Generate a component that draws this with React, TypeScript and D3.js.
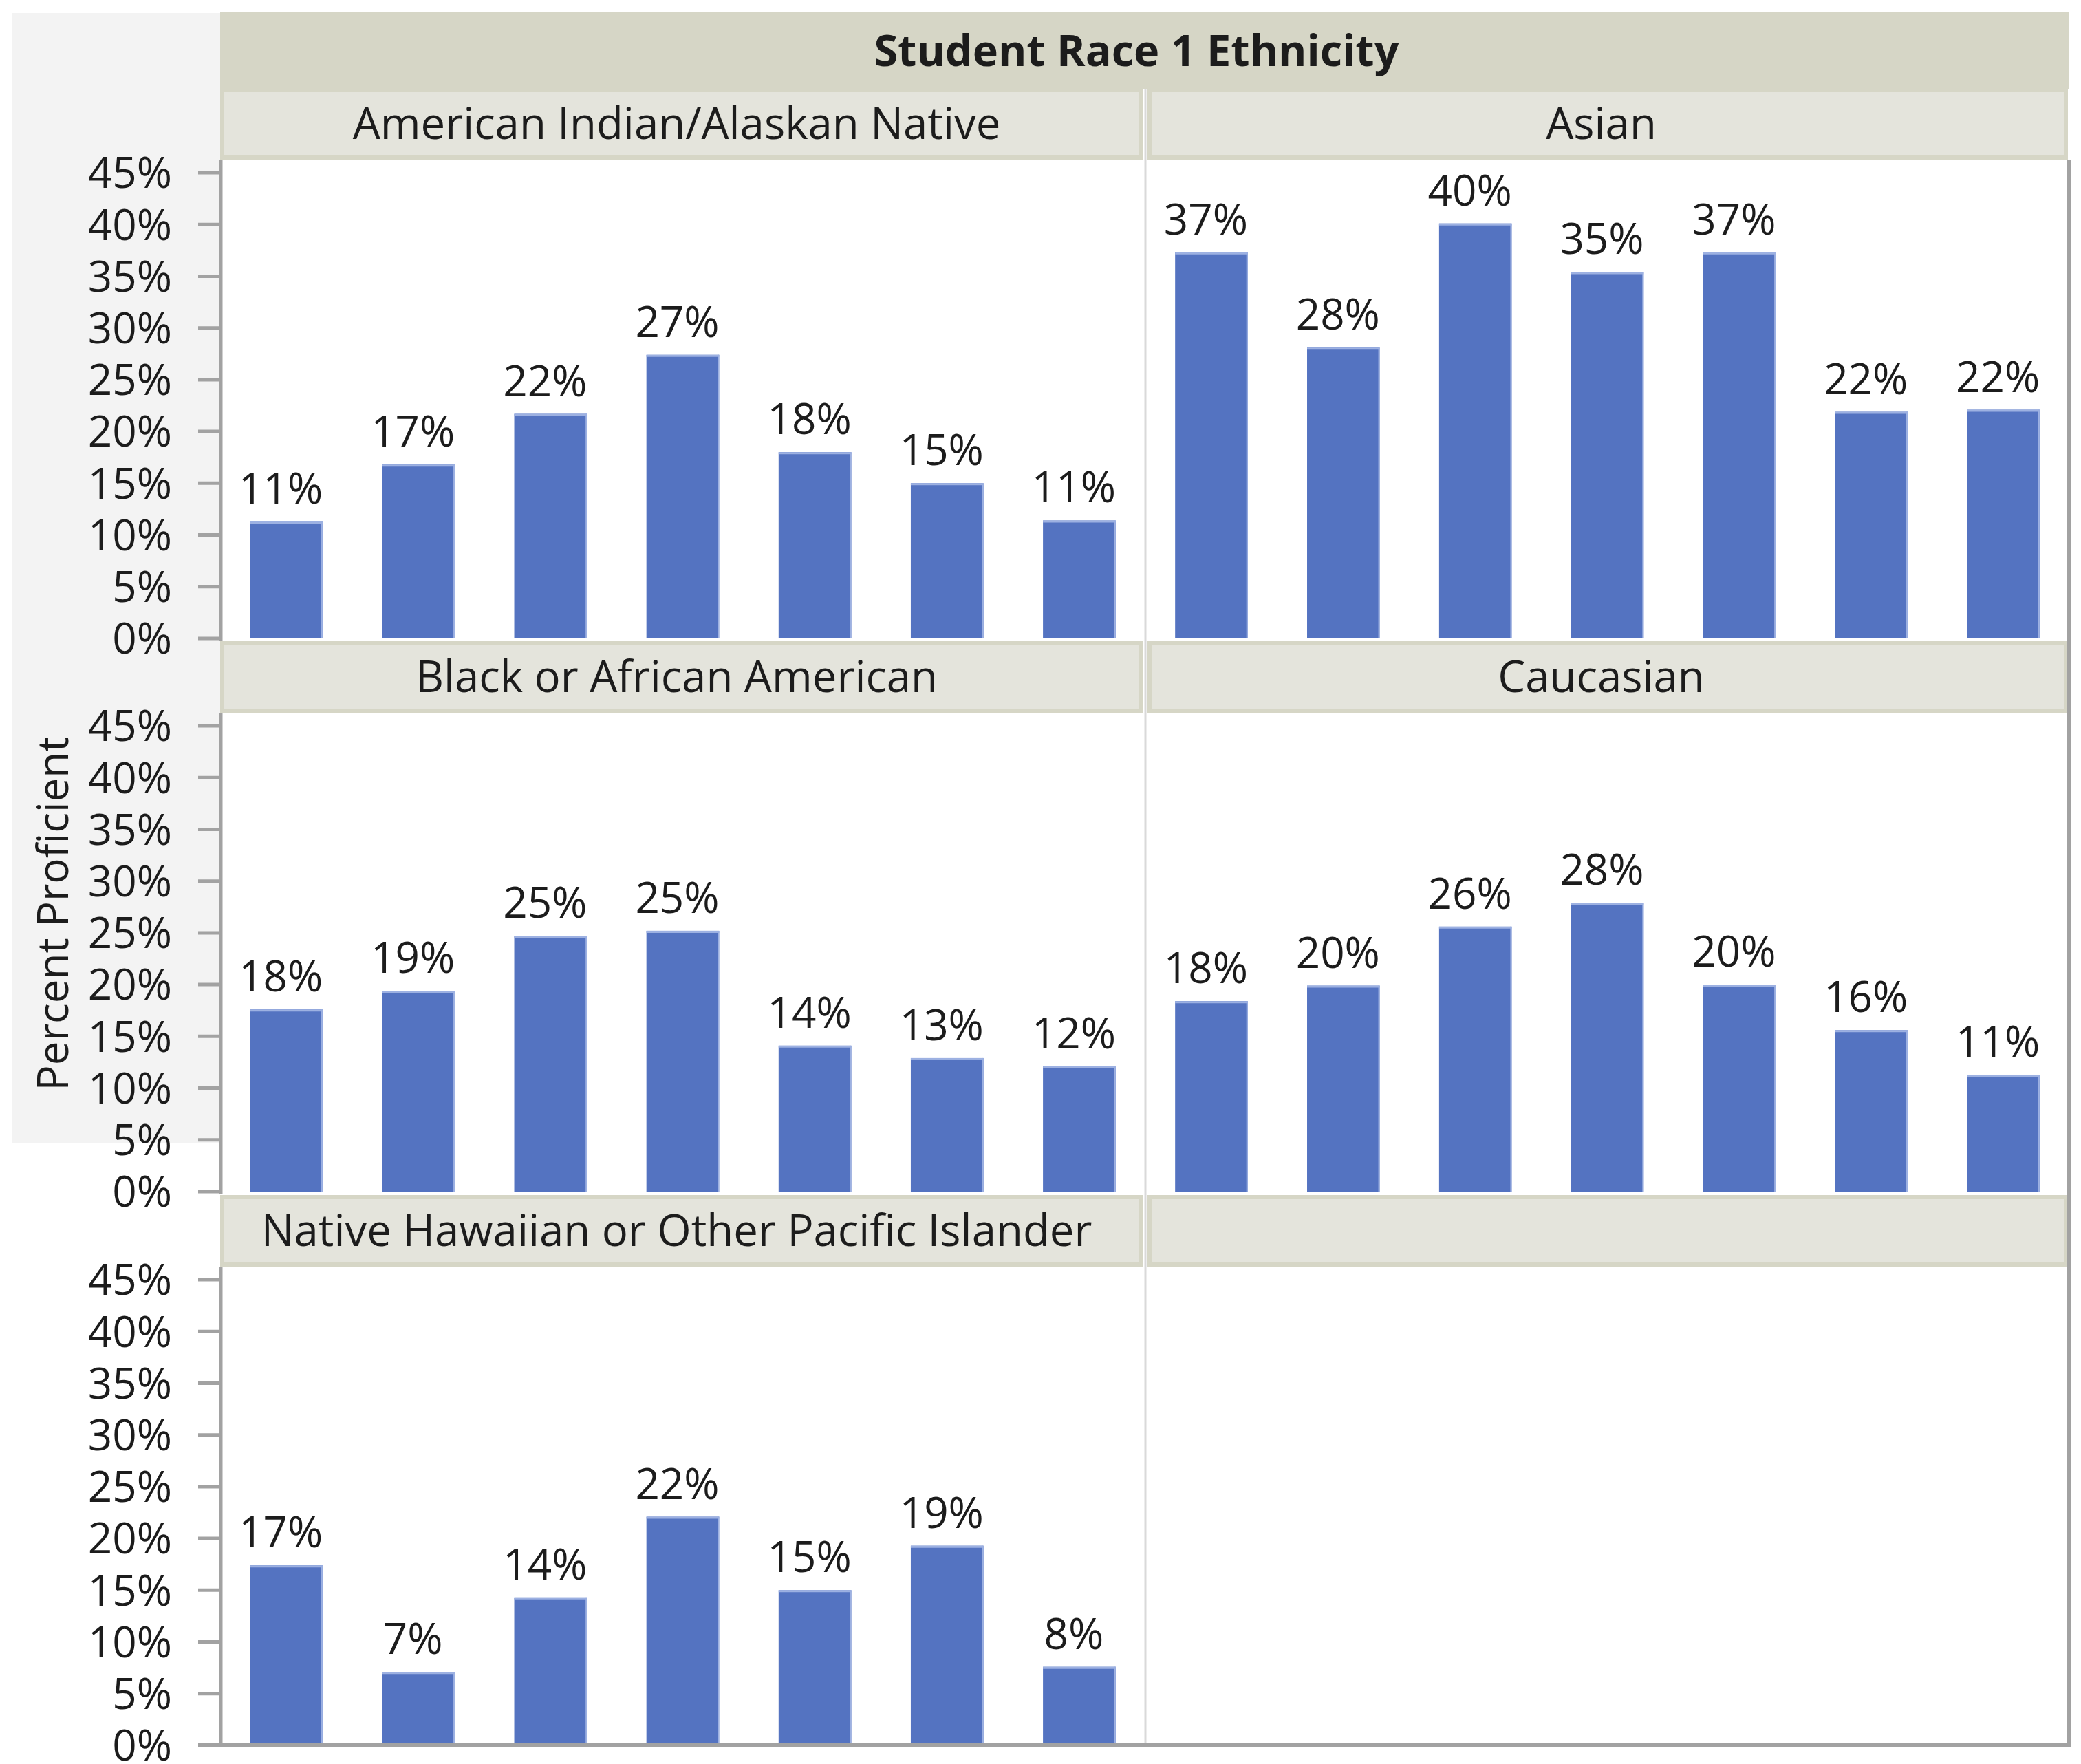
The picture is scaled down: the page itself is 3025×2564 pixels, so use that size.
import React from "react";
import * as d3 from "d3";

const categories = ["Grade 3", "Grade 4", "Grade 5", "Grade 6", "Grade 7", "Grade 8", "Grade 10"];
const groups = [
  "American Indian/Alaskan Native",
  "Asian",
  "Black or African American",
  "Caucasian",
  "Native Hawaiian or Other Pacific Islander",
];
const americanIndian = [0.113, 0.168, 0.217, 0.274, 0.18, 0.15, 0.114];
const asian = [0.373, 0.281, 0.401, 0.354, 0.373, 0.219, 0.221];
const black = [0.176, 0.194, 0.247, 0.252, 0.141, 0.129, 0.121];
const caucasian = [0.184, 0.199, 0.256, 0.279, 0.2, 0.156, 0.113];
const pacificIslander = [0.174, 0.071, 0.143, 0.221, 0.15, 0.193, 0.076];
const seriesValues = [americanIndian, asian, black, caucasian, pacificIslander];
const yTicks = [0, 0.05, 0.1, 0.15, 0.2, 0.25, 0.3, 0.35, 0.4, 0.45];
const chartTitle = "Student Race 1 Ethnicity";
const yTitle = "Percent Proficient";

const W = 3025;
const H = 2564;
const FONT = "'Segoe UI', 'Open Sans', 'Noto Sans', sans-serif";
const FS = 62;
const FS_HEAD = 63.5;
const TEXT = "#1c1c1c";
const BAR = "#5473c1";
const BAR_EDGE = "#9db1e2";
const AXIS = "#a2a2a2";
const HEAD_DARK = "#d6d6c6";
const HEAD_LIGHT = "#e4e4dc";

const colX: [number, number][] = [
  [320, 1665],
  [1665, 3008],
];
const zeroY = [928, 1732, 2537];
const SPAN45 = 677;
const PLOT_H = 696;
const HEAD_H = 104;

const fmt = d3.format(".0%");

export default function App() {
  const panels = [0, 1, 2, 3, 4, 5];
  return (
    <div style={{ position: "absolute", left: 0, top: 0 }}>
      <svg width={W} height={H} style={{ display: "block", background: "#fff" }} fontFamily={FONT}>
        <rect x={0} y={0} width={W} height={H} fill="#fff" />
        {/* left gray area */}
        <rect x={18} y={19} width={302} height={1643} fill="#f3f3f3" />
        {/* title band */}
        <rect x={320} y={17} width={2688} height={113} fill={HEAD_DARK} />
        <text x={1652} y={74} dy="0.35em" textAnchor="middle" fontSize={63} fontWeight={700} fill={TEXT}>
          {chartTitle}
        </text>
        {/* vertical divider between columns */}
        <line x1={1665} x2={1665} y1={130} y2={2537} stroke="#d9d9d9" strokeWidth={3} />
        {/* y axis title */}
        <text
          transform={`translate(${99},${1328}) rotate(-90)`}
          textAnchor="middle"
          fontSize={FS}
          fill={TEXT}
        >
          {yTitle}
        </text>
        {panels.map((i) => {
          const row = Math.floor(i / 2);
          const col = i % 2;
          const [x0, x1] = colX[col];
          const zy = zeroY[row];
          const plotTop = zy - PLOT_H;
          const headTop = plotTop - HEAD_H;
          const y = d3.scaleLinear().domain([0, 0.45]).range([zy, zy - SPAN45]);
          const x = d3
            .scaleBand<string>()
            .domain(categories)
            .range([x0, x1])
            .paddingInner(0.45)
            .paddingOuter(0.225);
          const values = seriesValues[i];
          const hx0 = col === 0 ? x0 : x0 + 3;
          const hx1 = col === 0 ? x1 - 3 : x1 - 2;
          return (
            <g key={i}>
              {/* header box */}
              <rect
                x={hx0 + 3}
                y={headTop + 3}
                width={hx1 - hx0 - 6}
                height={HEAD_H - 6}
                fill={HEAD_LIGHT}
                stroke={HEAD_DARK}
                strokeWidth={6}
              />
              {groups[i] && (
                <text
                  x={(x0 + x1) / 2 - 9}
                  y={headTop + HEAD_H / 2}
                  dy="0.35em"
                  textAnchor="middle"
                  fontSize={FS_HEAD}
                  fill={TEXT}
                >
                  {groups[i]}
                </text>
              )}
              {/* y axis for left column */}
              {col === 0 && (
                <g>
                  <line x1={321} x2={321} y1={plotTop} y2={zy + 3} stroke={AXIS} strokeWidth={5} />
                  {yTicks.map((t) => (
                    <g key={t}>
                      <line x1={288} x2={321} y1={y(t)} y2={y(t)} stroke={AXIS} strokeWidth={5} />
                      <text x={250} y={y(t)} dy="0.36em" textAnchor="end" fontSize={FS} fill={TEXT}>
                        {fmt(t)}
                      </text>
                    </g>
                  ))}
                </g>
              )}
              {values &&
                values.map((v, k) => {
                  const bx = x(categories[k]) as number;
                  const bw = x.bandwidth();
                  const top = y(v);
                  return (
                    <g key={k}>
                      <rect x={bx} y={top} width={bw} height={zy - top} fill={BAR} />
                      <line x1={bx} x2={bx + bw} y1={top + 1.5} y2={top + 1.5} stroke={BAR_EDGE} strokeWidth={3} />
                      <line x1={bx + bw - 1} x2={bx + bw - 1} y1={top} y2={zy} stroke={BAR_EDGE} strokeWidth={2} />
                      <text
                        x={bx + bw / 2 - 8}
                        y={top - 26}
                        textAnchor="middle"
                        fontSize={FS}
                        fill={TEXT}
                      >
                        {fmt(v)}
                      </text>
                    </g>
                  );
                })}
            </g>
          );
        })}
        {/* outer right and bottom frame */}
        <line x1={3008} x2={3008} y1={232} y2={2540} stroke={AXIS} strokeWidth={6} />
        <line x1={288} x2={3011} y1={2537} y2={2537} stroke={AXIS} strokeWidth={6} />
      </svg>
    </div>
  );
}
